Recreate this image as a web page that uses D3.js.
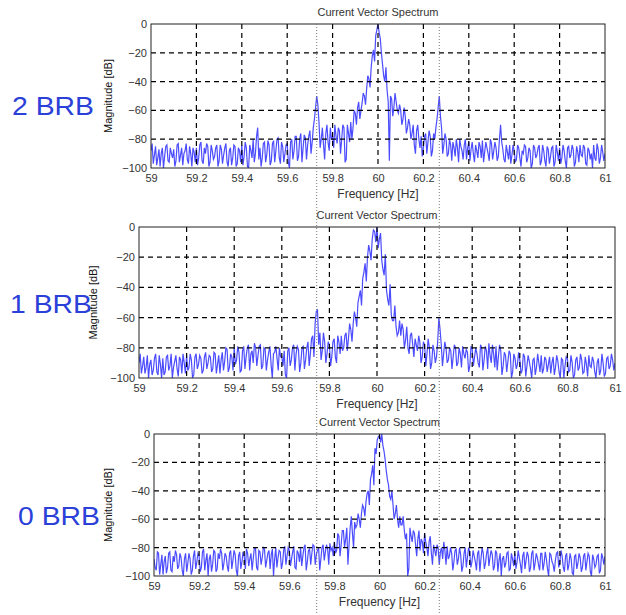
<!DOCTYPE html>
<html>
<head>
<meta charset="utf-8">
<script src="https://cdn.jsdelivr.net/npm/d3@7"></script>
<style>
  body { margin: 0; background: #fff; }
  svg { display: block; font-family: "Liberation Sans", Arial, sans-serif; }
</style>
</head>
<body>
<main></main>
<script>
// spectrum samples: main arrays every 0.01 Hz from 59 to 61 Hz,
// "Mid" arrays at the half steps in between (59.005 ... 60.995), magnitude in dB
const freqStart = 59;
const freqStep = 0.01;
const xTicks = [59, 59.2, 59.4, 59.6, 59.8, 60, 60.2, 60.4, 60.6, 60.8, 61];
const yTicks = [0, -20, -40, -60, -80, -100];
const sidebands = [59.73, 60.27];
const panelNames = ['2 BRB', '1 BRB', '0 BRB'];

const brb2 = [
  -88,-97,-85,-93,-99,-86,-92,-84,-96,-90,
  -87,-95,-83,-91,-98,-88,-94,-85,-99,-89,
  -86,-93,-82,-97,-90,-85,-96,-88,-92,-84,
  -95,-87,-91,-83,-99,-86,-93,-85,-97,-88,
  -84,-92,-86,-100,-88,-80,-90,-72,-86,-93,
  -82,-91,-84,-95,-81,-88,-79,-97,-85,-90,
  -83,-100,-80,-88,-78,-92,-76,-86,-79,-84,
  -74,-82,-66,-50,-68,-80,-84,-76,-82,-72,
  -78,-70,-83,-74,-80,-72,-94,-76,-68,-72,
  -62,-58,-66,-55,-50,-45,-38,-30,-18,-8,
  0,-10,-28,-40,-46,-95,-52,-58,-54,-62,
  -60,-66,-64,-72,-70,-76,-84,-74,-80,-78,
  -86,-76,-82,-78,-88,-80,-66,-50,-72,-84,
  -80,-90,-84,-82,-92,-86,-80,-88,-84,-94,
  -82,-87,-90,-84,-93,-85,-81,-89,-86,-95,
  -83,-88,-86,-92,-70,-87,-96,-89,-84,-91,
  -88,-94,-86,-99,-90,-85,-93,-88,-97,-86,
  -91,-84,-95,-88,-99,-87,-92,-85,-96,-89,
  -86,-93,-88,-100,-85,-91,-87,-96,-89,-84,
  -92,-86,-98,-88,-90,-84,-95,-87,-93,-89,
  -90
];
const brb2Mid = [
  -83,-91,-98,-87,-90,-100,-85,-95,-86,-93,
  -99,-84,-96,-86,-90,-83,-97,-90,-86,-96,
  -98,-84,-95,-86,-83,-99,-84,-94,-86,-99,
  -84,-97,-86,-96,-88,-98,-84,-99,-86,-96,
  -98,-82,-99,-84,-93,-96,-78,-94,-99,-83,
  -96,-81,-98,-83,-96,-80,-93,-82,-96,-84,
  -96,-82,-94,-78,-95,-80,-96,-77,-94,-78,
  -90,-72,-58,-56,-86,-72,-94,-70,-88,-80,
  -86,-78,-72,-90,-70,-96,-70,-82,-80,-60,
  -70,-54,-60,-48,-56,-36,-44,-22,-26,-4,
  -6,-20,-36,-30,-54,-50,-64,-48,-60,-56,
  -70,-58,-76,-66,-80,-70,-90,-70,-86,-92,
  -78,-90,-74,-92,-76,-72,-58,-64,-90,-76,
  -92,-80,-95,-86,-80,-96,-85,-94,-80,-86,
  -95,-82,-96,-88,-82,-93,-96,-82,-90,-80,
  -94,-82,-95,-80,-82,-94,-84,-94,-97,-84,
  -96,-84,-93,-88,-84,-96,-86,-100,-84,-93,
  -86,-98,-84,-95,-85,-97,-86,-99,-84,-95,
  -97,-84,-95,-86,-93,-84,-99,-85,-96,-91,
  -84,-97,-86,-94,-100,-93,-83,-97,-84,-95
];

const brb1 = [
  -90,-97,-86,-93,-100,-88,-95,-84,-98,-91,
  -87,-96,-85,-92,-100,-89,-94,-86,-97,-90,
  -85,-93,-88,-98,-84,-91,-87,-95,-83,-90,
  -86,-94,-84,-91,-97,-83,-89,-81,-93,-86,
  -80,-88,-83,-95,-79,-86,-78,-84,-90,-80,
  -85,-78,-92,-81,-88,-79,-100,-83,-87,-80,
  -86,-82,-100,-80,-88,-78,-84,-81,-90,-79,
  -88,-76,-84,-72,-64,-55,-70,-82,-76,-84,
  -78,-86,-74,-90,-76,-72,-80,-70,-74,-68,
  -64,-60,-50,-42,-34,-24,-20,-16,-8,-3,
  0,-8,-22,-32,-42,-52,-58,-62,-66,-70,
  -72,-68,-75,-80,-72,-78,-74,-82,-76,-86,
  -78,-84,-80,-90,-82,-86,-60,-78,-84,-80,
  -88,-82,-86,-80,-90,-84,-79,-87,-83,-92,
  -81,-86,-84,-93,-80,-88,-82,-77,-90,-84,
  -79,-86,-82,-92,-85,-89,-84,-96,-87,-91,
  -88,-95,-86,-92,-89,-100,-87,-93,-90,-85,
  -94,-88,-91,-97,-86,-93,-89,-100,-88,-92,
  -87,-95,-90,-98,-86,-93,-88,-96,-91,-85,
  -93,-89,-100,-87,-95,-90,-97,-86,-92,-88,
  -90
];
const brb1Mid = [
  -84,-92,-97,-85,-91,-98,-87,-96,-85,-100,
  -98,-86,-95,-84,-93,-85,-99,-88,-84,-97,
  -95,-84,-100,-86,-94,-85,-97,-86,-94,-85,
  -96,-83,-97,-85,-88,-95,-80,-96,-84,-95,
  -91,-79,-96,-82,-94,-80,-95,-82,-77,-92,
  -79,-94,-80,-95,-83,-91,-84,-79,-95,-86,
  -92,-98,-82,-92,-80,-95,-79,-96,-80,-94,
  -80,-92,-74,-86,-56,-78,-88,-70,-90,-76,
  -92,-76,-86,-72,-84,-82,-72,-82,-64,-76,
  -56,-66,-46,-52,-30,-36,-12,-22,-2,-10,
  -14,-4,-28,-18,-48,-38,-62,-52,-72,-62,
  -64,-80,-66,-84,-70,-86,-78,-72,-90,-76,
  -92,-74,-94,-78,-90,-76,-68,-92,-76,-90,
  -80,-94,-78,-92,-80,-93,-84,-81,-96,-79,
  -92,-80,-90,-78,-95,-79,-94,-85,-78,-93,
  -95,-78,-98,-83,-96,-82,-100,-84,-94,-83,
  -97,-84,-99,-85,-94,-88,-98,-84,-96,-97,
  -86,-96,-86,-90,-98,-85,-96,-87,-100,-86,
  -96,-85,-100,-88,-95,-84,-97,-86,-99,-92,
  -86,-96,-90,-98,-84,-99,-87,-94,-84,-95
];

const brb0 = [
  -88,-96,-84,-92,-99,-86,-94,-83,-97,-90,
  -85,-93,-87,-100,-84,-91,-88,-96,-82,-90,
  -86,-94,-81,-89,-100,-85,-92,-83,-95,-88,
  -84,-91,-86,-97,-82,-89,-85,-100,-83,-90,
  -86,-81,-93,-84,-88,-80,-96,-83,-87,-81,
  -89,-82,-85,-100,-80,-87,-83,-91,-79,-86,
  -82,-88,-79,-95,-84,-80,-86,-78,-90,-81,
  -84,-79,-85,-80,-88,-78,-83,-81,-77,-80,
  -76,-82,-72,-78,-68,-74,-92,-66,-70,-62,
  -64,-60,-56,-52,-48,-40,-32,-22,-10,-4,
  -1,0,-12,-26,-36,-46,-50,-56,-60,-58,
  -64,-68,-70,-95,-72,-68,-78,-74,-82,-76,
  -70,-80,-76,-84,-78,-86,-80,-83,-88,-82,
  -79,-86,-84,-90,-81,-88,-85,-93,-80,-87,
  -83,-90,-86,-96,-82,-88,-84,-91,-80,-87,
  -85,-93,-84,-89,-100,-86,-91,-83,-95,-88,
  -84,-90,-87,-98,-83,-89,-86,-94,-82,-91,
  -87,-96,-84,-91,-88,-100,-85,-92,-89,-83,
  -90,-86,-97,-84,-92,-88,-99,-85,-91,-87,
  -94,-84,-90,-86,-100,-88,-92,-85,-96,-87,
  -86
];
const brb0Mid = [
  -94,-83,-99,-85,-90,-98,-84,-96,-86,-82,
  -95,-84,-96,-88,-97,-84,-99,-86,-95,-84,
  -97,-83,-96,-84,-88,-97,-82,-97,-84,-81,
  -96,-84,-93,-84,-95,-82,-96,-86,-95,-83,
  -95,-84,-88,-96,-80,-94,-82,-92,-80,-94,
  -84,-95,-81,-88,-94,-82,-95,-82,-92,-80,
  -93,-83,-94,-82,-90,-93,-80,-96,-82,-92,
  -78,-92,-82,-96,-80,-89,-78,-92,-82,-86,
  -84,-70,-86,-68,-80,-66,-78,-58,-80,-66,
  -56,-66,-50,-58,-42,-50,-28,-36,-14,-2,
  -6,-8,-18,-32,-44,-40,-60,-50,-66,-64,
  -58,-74,-100,-66,-76,-70,-86,-68,-74,-84,
  -76,-86,-72,-92,-82,-78,-92,-80,-76,-92,
  -88,-80,-96,-82,-92,-80,-97,-84,-94,-80,
  -94,-82,-90,-84,-97,-80,-95,-84,-93,-82,
  -96,-82,-97,-84,-88,-94,-84,-96,-84,-93,
  -95,-82,-92,-86,-95,-83,-97,-84,-96,-84,
  -92,-84,-96,-83,-95,-84,-90,-97,-84,-94,
  -82,-94,-86,-96,-84,-98,-86,-95,-84,-97,
  -86,-96,-84,-97,-85,-94,-86,-98,-84,-92
];

const w = 626, h = 615;
const svg = d3.select('main').append('svg').attr('width', w).attr('height', h);

const panels = [
  { values: brb2, mid: brb2Mid, name: panelNames[0], l: 151, r: 605, t: 24, b: 168, nameX: 12, nameY: 115, ylabX: 108 },
  { values: brb1, mid: brb1Mid, name: panelNames[1], l: 139, r: 615, t: 227, b: 378, nameX: 10, nameY: 313, ylabX: 93 },
  { values: brb0, mid: brb0Mid, name: panelNames[2], l: 154, r: 605, t: 434, b: 576, nameX: 18, nameY: 525, ylabX: 108 }
];

const textCol = '#333';
let xFirst;

panels.forEach((p, k) => {
  const x = d3.scaleLinear().domain([59, 61]).range([p.l, p.r]);
  const y = d3.scaleLinear().domain([-100, 0]).range([p.b, p.t]);
  if (k === 0) xFirst = x;
  const g = svg.append('g');

  g.append('clipPath').attr('id', 'clip' + k)
    .append('rect').attr('x', p.l).attr('y', p.t).attr('width', p.r - p.l).attr('height', p.b - p.t);

  // merge the whole-step and half-step samples into one trace
  const pts = [];
  p.values.forEach((v, i) => {
    pts.push([freqStart + i * freqStep, v]);
    if (i < p.mid.length) pts.push([freqStart + (i + 0.5) * freqStep, p.mid[i]]);
  });
  const line = d3.line().x(d => x(d[0])).y(d => y(d[1]));
  g.append('path')
    .datum(pts)
    .attr('clip-path', `url(#clip${k})`)
    .attr('d', line)
    .attr('fill', 'none')
    .attr('stroke', '#0000ff')
    .attr('stroke-opacity', 0.7)
    .attr('stroke-width', 1.2);

  // dashed grid
  g.selectAll('.gx').data(xTicks.slice(1, -1)).enter().append('line')
    .attr('x1', d => x(d)).attr('x2', d => x(d)).attr('y1', p.t).attr('y2', p.b)
    .attr('stroke', '#000').attr('stroke-width', 1.2).attr('stroke-dasharray', '5,4');
  g.selectAll('.gy').data(yTicks.slice(1, -1)).enter().append('line')
    .attr('x1', p.l).attr('x2', p.r).attr('y1', d => y(d)).attr('y2', d => y(d))
    .attr('stroke', '#000').attr('stroke-width', 1.2).attr('stroke-dasharray', '5,4');

  g.append('rect').attr('x', p.l).attr('y', p.t).attr('width', p.r - p.l).attr('height', p.b - p.t)
    .attr('fill', 'none').attr('stroke', '#222').attr('stroke-width', 1);

  const xAxis = g.append('g').attr('transform', `translate(0,${p.b})`)
    .call(d3.axisBottom(x).tickValues(xTicks).tickSize(0).tickPadding(6).tickFormat(d3.format('')));
  const yAxis = g.append('g').attr('transform', `translate(${p.l},0)`)
    .call(d3.axisLeft(y).tickValues(yTicks).tickSize(0).tickPadding(4).tickFormat(d3.format('')));
  [xAxis, yAxis].forEach(a => {
    a.select('.domain').remove();
    a.selectAll('text').attr('fill', textCol).attr('font-size', 11)
      .attr('font-family', '"Liberation Sans", Arial, sans-serif');
  });

  g.append('text').attr('x', (p.l + p.r) / 2).attr('y', p.t - 8)
    .attr('text-anchor', 'middle').attr('font-size', 11).attr('fill', textCol)
    .text('Current Vector Spectrum');
  g.append('text').attr('x', (p.l + p.r) / 2).attr('y', p.b + 30)
    .attr('text-anchor', 'middle').attr('font-size', 12).attr('fill', textCol)
    .text('Frequency [Hz]');
  g.append('text')
    .attr('transform', `translate(${p.ylabX},${(p.t + p.b) / 2}) rotate(-90)`)
    .attr('text-anchor', 'middle').attr('dy', '0.35em').attr('font-size', 11).attr('fill', '#111')
    .text('Magnitude [dB]');

  svg.append('text').attr('x', p.nameX).attr('y', p.nameY)
    .attr('font-size', 26).attr('fill', '#2b3fd9')
    .attr('font-family', '"Liberation Sans", Arial, sans-serif')
    .attr('textLength', 82).attr('lengthAdjust', 'spacingAndGlyphs')
    .text(p.name);
});

// dotted markers at the broken-bar sideband frequencies, across all panels
svg.selectAll('.sb').data(sidebands).enter().append('line')
  .attr('x1', d => xFirst(d)).attr('x2', d => xFirst(d))
  .attr('y1', 24).attr('y2', h)
  .attr('stroke', '#777').attr('stroke-width', 1).attr('stroke-dasharray', '1,2');
</script>
</body>
</html>
